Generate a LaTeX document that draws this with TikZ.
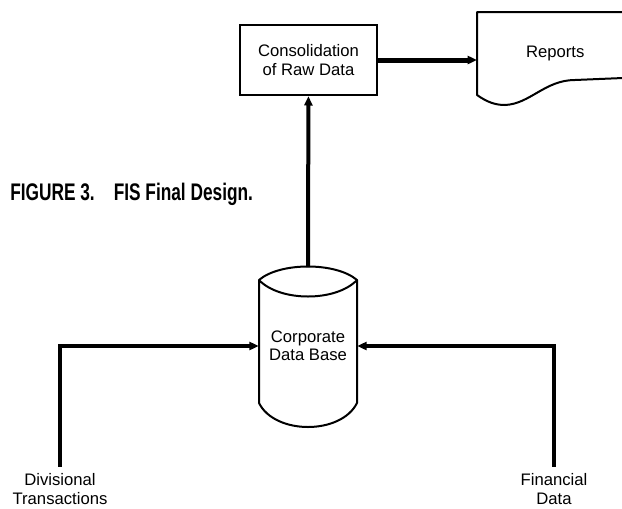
\documentclass[tikz,border=0pt]{standalone}
\usepackage{fontspec}
\setmainfont{Liberation Sans}
\usetikzlibrary{positioning, arrows.meta}

\begin{document}
\begin{tikzpicture}[
  x=0.75pt, y=-0.75pt,
  font=\fontsize{12.5}{13.75}\selectfont,
  box/.style={draw, line width=1.75pt, align=center, minimum width=102.75pt, minimum height=52.5pt, inner sep=2pt},
  txt/.style={align=center, inner sep=0pt},
  outline/.style={line width=1.5pt, line join=round},
  flow/.style={-{Triangle[length=7pt, width=6pt]}, line width=3pt}
]
\useasboundingbox (0,0) rectangle (622,508);
\node[anchor=base west, inner sep=0pt, font=\fontsize{18}{20}\selectfont\bfseries] (cap) at (10,200)
  {\scalebox{0.72}[1]{FIGURE 3.\hspace{1.1em}FIS Final Design.}};
\node[box] (cons) at (308.5,60) {Consolidation\\of Raw Data};
\node[txt, anchor=west, minimum width=117pt] (rep) at (477,53) {Reports};
\node[txt, minimum width=73.5pt] (db) at (308,346) {Corporate\\Data Base};
\coordinate (dbtop) at (308,267);
\node[txt] (div) at (60,489) {Divisional\\Transactions};
\node[txt] (fin) at (554,489) {Financial\\Data};
% report sheet
\draw[outline] (623,12) -- (477,12) -- (477,95)
  .. controls (487,102) and (495,105) .. (505,105)
  .. controls (530,104) and (545,80) .. (575,80) -- (623,78);
% data base drum
\draw[outline] (259,280) .. controls (280,262) and (336,262) .. (357,280)
  .. controls (336,302) and (280,302) .. (259,280) -- (259,403)
  .. controls (275,435) and (341,435) .. (357,403) -- (357,280);
\draw[flow, line width=3.75pt] (cons) -- (cons -| rep.west);
\draw[flow] (dbtop) -- (cons);
\draw[flow] ([yshift=5pt]div.north) |- (db.west);
\draw[flow] ([yshift=5pt]fin.north) |- (db.east);
\end{tikzpicture}
\end{document}
